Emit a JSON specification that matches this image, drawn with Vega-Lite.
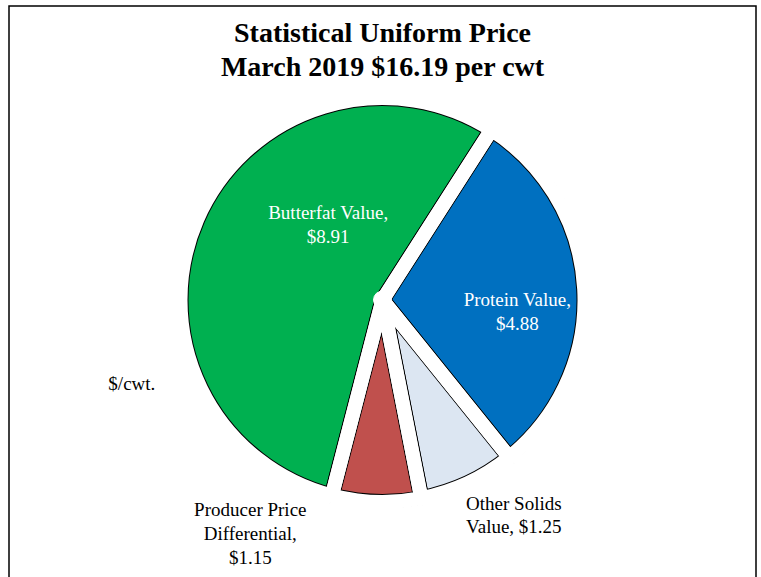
{
  "$schema": "https://vega.github.io/schema/vega-lite/v6.json",
  "width": 747,
  "height": 588,
  "autosize": "none",
  "padding": {"left": 9, "top": 6, "right": 5, "bottom": 0},
  "background": "white",
  "config": {"view": {"stroke": "black", "strokeWidth": 1.5}, "font": "Liberation Serif"},
  "title": {
    "text": ["Statistical Uniform Price", "March 2019 $16.19 per cwt"],
    "font": "Liberation Serif",
    "fontSize": 28,
    "fontWeight": "bold",
    "lineHeight": 34,
    "anchor": "middle",
    "frame": "group",
    "offset": -76,
    "color": "black"
  },
  "data": {
    "values": [
      {"label": "Butterfat Value", "value": 8.91, "text": "Butterfat Value,\n$8.91"},
      {"label": "Protein Value", "value": 4.88, "text": "Protein Value,\n$4.88"},
      {"label": "Other Solids Value", "value": 1.25, "text": "Other Solids\nValue, $1.25"},
      {"label": "Producer Price Differential", "value": 1.15, "text": "Producer Price\nDifferential,\n$1.15"}
    ]
  },
  "encoding": {
    "theta": {"field": "value", "type": "quantitative", "stack": true, "scale": {"range": [3.3947, 9.6779]}},
    "order": {"field": "value", "sort": "descending"}
  },
  "layer": [
    {
      "mark": {"type": "point", "opacity": 0},
      "encoding": {
        "x": {"field": "value", "type": "quantitative", "axis": null},
        "y": {"field": "value", "type": "quantitative", "axis": null}
      }
    },
    {
      "mark": {"type": "arc", "outerRadius": 202, "stroke": "black", "strokeWidth": 16, "strokeJoin": "round"},
      "encoding": {
        "color": {
          "field": "label",
          "type": "nominal",
          "legend": null,
          "scale": {
            "domain": ["Butterfat Value", "Protein Value", "Other Solids Value", "Producer Price Differential"],
            "range": ["#00B050", "#0070C0", "#DCE6F2", "#C0504D"]
          }
        }
      }
    },
    {
      "mark": {"type": "arc", "outerRadius": 202, "fillOpacity": 0, "stroke": "white", "strokeWidth": 14, "strokeJoin": "round"}
    },
    {
      "mark": {"type": "arc", "innerRadius": 208, "outerRadius": 222, "fill": "white", "stroke": "white", "strokeWidth": 1}
    },
    {
      "mark": {"type": "arc", "outerRadius": 9, "fill": "white", "stroke": "white", "strokeWidth": 1}
    },
    {
      "mark": {"type": "text", "radius": 80, "dx": 19, "dy": -55, "fontSize": 19, "color": "white", "lineBreak": "\n", "lineHeight": 24, "align": "center", "baseline": "middle"},
      "encoding": {"text": {"condition": {"test": "datum.label === 'Butterfat Value'", "field": "text"}, "value": ""}}
    },
    {
      "mark": {"type": "text", "radius": 144, "dx": -9, "dy": 8, "fontSize": 19, "color": "white", "lineBreak": "\n", "lineHeight": 24, "align": "center", "baseline": "middle"},
      "encoding": {"text": {"condition": {"test": "datum.label === 'Protein Value'", "field": "text"}, "value": ""}}
    },
    {
      "mark": {"type": "text", "radius": 252, "dx": 25, "dy": -24, "fontSize": 19, "color": "black", "lineBreak": "\n", "lineHeight": 23, "align": "center", "baseline": "middle"},
      "encoding": {"text": {"condition": {"test": "datum.label === 'Other Solids Value'", "field": "text"}, "value": ""}}
    },
    {
      "mark": {"type": "text", "radius": 240, "dx": -125, "dy": -30, "fontSize": 19, "color": "black", "lineBreak": "\n", "lineHeight": 24, "align": "center", "baseline": "middle"},
      "encoding": {"text": {"condition": {"test": "datum.label === 'Producer Price Differential'", "field": "text"}, "value": ""}}
    },
    {
      "mark": {"type": "text", "radius": 196, "dx": -71, "dy": 162, "fontSize": 19, "color": "black", "align": "center", "baseline": "middle"},
      "encoding": {"text": {"condition": {"test": "datum.label === 'Butterfat Value'", "value": "$/cwt."}, "value": ""}}
    }
  ]
}
